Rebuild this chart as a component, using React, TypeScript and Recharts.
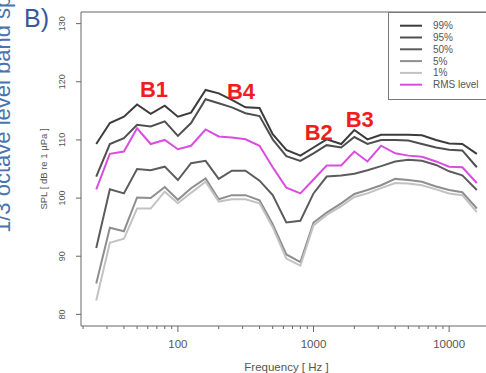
import React from 'react';
import { LineChart, Line, XAxis, YAxis, Legend, ReferenceLine, ReferenceDot } from 'recharts';

// 1/3 octave band centre frequencies (Hz)
const freqs = [25, 31.5, 40, 50, 63, 80, 100, 125, 160, 200, 250, 315, 400, 500, 630, 800, 1000, 1250, 1600, 2000, 2500, 3150, 4000, 5000, 6300, 8000, 10000, 12500, 16000];

// percentile levels, dB re 1 µPa
const p99 = [109.3, 112.9, 114.0, 116.1, 114.5, 115.9, 114.0, 114.7, 118.6, 118.0, 116.9, 115.6, 115.5, 111.0, 108.3, 107.3, 108.7, 110.1, 109.3, 111.7, 110.1, 110.9, 110.9, 110.9, 110.8, 110.0, 109.4, 109.3, 107.6];
const p95 = [103.7, 109.3, 110.3, 112.6, 112.3, 113.2, 110.7, 112.9, 117.0, 116.3, 115.6, 114.6, 114.1, 110.1, 107.2, 106.4, 107.7, 109.1, 108.7, 110.5, 109.3, 110.0, 110.0, 109.9, 109.3, 108.7, 108.3, 108.2, 105.3];
const p50 = [91.4, 101.5, 100.8, 105.0, 104.8, 105.4, 103.1, 106.0, 106.4, 103.3, 104.7, 104.7, 103.0, 100.5, 95.8, 96.1, 100.8, 103.7, 103.9, 104.2, 104.8, 105.5, 106.3, 106.6, 106.4, 105.7, 104.6, 103.9, 101.4];
const p5 = [85.3, 94.9, 94.3, 100.1, 100.0, 101.9, 99.7, 101.7, 103.4, 99.8, 100.5, 100.5, 99.6, 95.5, 90.3, 89.0, 95.8, 97.5, 99.1, 100.7, 101.4, 102.2, 103.3, 103.1, 102.8, 102.0, 101.4, 101.0, 98.2];
const p1 = [82.4, 92.3, 93.0, 98.2, 98.2, 101.1, 99.1, 100.9, 102.8, 99.4, 99.8, 99.8, 99.1, 95.0, 89.6, 88.4, 95.3, 97.1, 98.6, 100.2, 100.8, 101.7, 102.6, 102.5, 102.2, 101.5, 100.8, 100.5, 97.6];
const rms = [101.5, 107.6, 108.0, 112.0, 109.3, 110.0, 108.4, 109.0, 111.8, 110.6, 110.4, 110.1, 109.0, 105.3, 101.8, 100.8, 103.2, 105.6, 105.6, 108.0, 106.3, 109.0, 107.7, 107.3, 107.1, 106.3, 105.4, 105.3, 102.6];

// axis ticks
const xTicks = [20, 30, 40, 50, 60, 70, 80, 90, 100, 200, 300, 400, 500, 600, 700, 800, 900, 1000, 2000, 3000, 4000, 5000, 6000, 7000, 8000, 9000, 10000, 20000];
const xLabelTicks = [100, 1000, 10000];
const yTicks = [80, 90, 100, 110, 120, 130];

// legend order as in the figure
const legendOrder = ['99%', '95%', '50%', '5%', '1%', 'RMS level'];

// band annotations
const bands = [
  { name: 'B1', f: 66.7, level: 118.6 },
  { name: 'B4', f: 292, level: 118.3 },
  { name: 'B2', f: 1092, level: 111.2 },
  { name: 'B3', f: 2191, level: 113.5 },
];

const data = freqs.map((f, i) => ({
  f,
  p99: p99[i],
  p95: p95[i],
  p50: p50[i],
  p5: p5[i],
  p1: p1[i],
  rms: rms[i],
}));

const axisColor = '#666';
const textColor = '#555';
const font = '"Liberation Sans", Arial, sans-serif';

function FreqTick({ x, y, payload }: any) {
  const major = xLabelTicks.includes(payload.value);
  return (
    <g>
      <line x1={x} x2={x} y1={y} y2={y + (major ? 6 : 3)} stroke={axisColor} />
      {major && (
        <text x={x} y={y + 22} textAnchor="middle" fontSize={11.5} fill={textColor} fontFamily={font}>
          {payload.value}
        </text>
      )}
    </g>
  );
}

function LevelTick({ x, y, payload }: any) {
  const tx = x - 12;
  return (
    <text x={tx} y={y} textAnchor="middle" dominantBaseline="central" fontSize={9} fill={textColor}
      fontFamily={font} transform={`rotate(-90, ${tx}, ${y})`}>
      {payload.value}
    </text>
  );
}

function LegendBox({ payload }: any) {
  const items = [...(payload || [])].sort(
    (a: any, b: any) => legendOrder.indexOf(a.value) - legendOrder.indexOf(b.value)
  );
  return (
    <svg width={110} height={88} style={{ display: 'block' }}>
      <rect x={0.5} y={0.5} width={130} height={87} fill="#fff" stroke="#777" />
      {items.map((item: any, i: number) => {
        const y = 13.7 + i * 11.8;
        return (
          <g key={item.value}>
            <line x1={12} x2={34} y1={y} y2={y} stroke={item.color} strokeWidth={2} />
            <text x={45} y={y + 3.5} fontSize={10} fill={textColor} fontFamily={font}>{item.value}</text>
          </g>
        );
      })}
    </svg>
  );
}

const BandLabel = (name: string) => (props: any) => (
  <text x={props.cx} y={props.cy} textAnchor="middle" dominantBaseline="central" fontSize={22}
    fontWeight="bold" fill="#f21c1c" fontFamily={font}>
    {name}
  </text>
);

export default function App() {
  return (
    <div style={{ position: 'absolute', left: 0, top: 0, width: 486, height: 373, overflow: 'hidden', background: '#fff' }}>
      <LineChart width={500} height={373} data={data} margin={{ top: 12, right: 8, left: 0, bottom: 0 }}>
        <XAxis
          dataKey="f"
          type="number"
          scale="log"
          domain={[19.3, 20700]}
          allowDataOverflow
          ticks={xTicks}
          interval={0}
          tick={<FreqTick />}
          tickLine={false}
          tickSize={0}
          tickMargin={0}
          height={47}
          stroke={axisColor}
          label={{
            content: ({ viewBox }: any) => (
              <text x={viewBox.x + viewBox.width / 2} y={371} textAnchor="middle" fontSize={11.5}
                fill={textColor} fontFamily={font}>
                Frequency [ Hz ]
              </text>
            ),
          }}
        />
        <YAxis
          type="number"
          domain={[78, 132]}
          ticks={yTicks}
          interval={0}
          width={81}
          tickSize={5}
          tickMargin={2}
          tick={<LevelTick />}
          stroke={axisColor}
          label={{
            content: ({ viewBox }: any) => {
              const cx = 43;
              const cy = viewBox.y + viewBox.height / 2;
              return (
                <text x={cx} y={cy} textAnchor="middle" dominantBaseline="central" fontSize={9.5}
                  fill={textColor} fontFamily={font} transform={`rotate(-90, ${cx}, ${cy})`}>
                  SPL [ dB re 1 µPa ]
                </text>
              );
            },
          }}
        />
        <ReferenceLine y={132} stroke={axisColor} />
        <Legend
          layout="vertical"
          align="center"
          verticalAlign="middle"
          content={<LegendBox />}
          wrapperStyle={{ left: 388, top: 12, width: 110, height: 88, lineHeight: 0 }}
        />
        <Line name="99%" dataKey="p99" stroke="#3c3c3c" strokeWidth={2} dot={false} isAnimationActive={false} />
        <Line name="95%" dataKey="p95" stroke="#4f4f4f" strokeWidth={2} dot={false} isAnimationActive={false} />
        <Line name="50%" dataKey="p50" stroke="#5c5c5c" strokeWidth={2} dot={false} isAnimationActive={false} />
        <Line name="5%" dataKey="p5" stroke="#8e8e8e" strokeWidth={2} dot={false} isAnimationActive={false} />
        <Line name="1%" dataKey="p1" stroke="#c2c2c2" strokeWidth={2} dot={false} isAnimationActive={false} />
        <Line name="RMS level" dataKey="rms" stroke="#d94de0" strokeWidth={2} dot={false} isAnimationActive={false} />
        {bands.map((b) => (
          <ReferenceDot key={b.name} x={b.f} y={b.level} r={0} shape={BandLabel(b.name)} />
        ))}
      </LineChart>

      <div style={{ position: 'absolute', left: 24, top: 3, fontFamily: font, fontSize: 25, color: '#35599a', lineHeight: '30px' }}>
        B)
      </div>
      <div
        style={{
          position: 'absolute',
          left: -8,
          top: 233,
          transform: 'rotate(-90deg)',
          transformOrigin: 'left top',
          whiteSpace: 'nowrap',
          fontFamily: font,
          fontSize: 22,
          lineHeight: '22px',
          color: '#4a74ad',
        }}
      >
        1/3 octave level band spectra
      </div>
    </div>
  );
}
